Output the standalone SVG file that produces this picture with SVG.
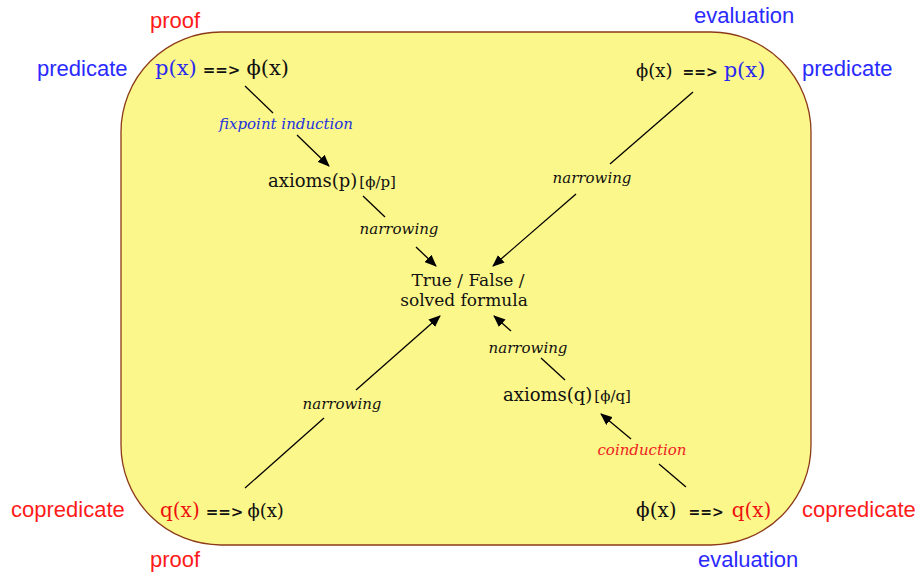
<svg xmlns="http://www.w3.org/2000/svg" width="922" height="573" viewBox="0 0 922 573">
<style>
.side{font-family:"Liberation Sans",Arial,sans-serif;font-size:22px}
.red{fill:#ff1a1a}
.blue{fill:#2a2aff}
.f{font-family:"DejaVu Serif","Liberation Serif",serif;fill:#111}
.lab{font-family:"DejaVu Serif","Liberation Serif",serif;font-style:italic;font-size:15px;fill:#111}
.edge{stroke:#000;stroke-width:1.3;fill:none}
</style>
<defs>
<marker id="ah" viewBox="0 0 12 10" refX="11" refY="5" markerWidth="12" markerHeight="10" markerUnits="userSpaceOnUse" orient="auto">
<path d="M0,0 L12,5 L0,10 z" fill="#000"/>
</marker>
</defs>
<rect id="frame" x="121" y="32" width="690" height="513" rx="100" ry="100" fill="#fcf78a" stroke="#8b3a1a" stroke-width="1.3"/>
<g id="corner-labels" class="side">
<text x="150" y="28" class="red">proof</text>
<text x="694" y="23" class="blue">evaluation</text>
<text x="37" y="76" class="blue">predicate</text>
<text x="802" y="76" class="blue">predicate</text>
<text x="11" y="517" class="red">copredicate</text>
<text x="802" y="517" class="red">copredicate</text>
<text x="150" y="567" class="red">proof</text>
<text x="698" y="567" class="blue">evaluation</text>
</g>
<g id="connectors">
<path class="edge" d="M245,86 L273,113"/>
<path class="edge" d="M297,135 L329,166" marker-end="url(#ah)"/>
<path class="edge" d="M363,196 L385,217"/>
<path class="edge" d="M416,247 L436,266" marker-end="url(#ah)"/>
<path class="edge" d="M693,92 L610,164"/>
<path class="edge" d="M576,194 L493,266" marker-end="url(#ah)"/>
<path class="edge" d="M245,488 L324,418"/>
<path class="edge" d="M356,390 L440,316" marker-end="url(#ah)"/>
<path class="edge" d="M565,380 L541,358"/>
<path class="edge" d="M511,331 L494,316" marker-end="url(#ah)"/>
<path class="edge" d="M686,487 L659,464"/>
<path class="edge" d="M631,439 L601,414" marker-end="url(#ah)"/>
</g>
<g id="edge-labels">
<text class="lab" x="286" y="129" text-anchor="middle" style="fill:#2233dd">fixpoint induction</text>
<text class="lab" x="399" y="234" text-anchor="middle">narrowing</text>
<text class="lab" x="592" y="183" text-anchor="middle">narrowing</text>
<text class="lab" x="342" y="409" text-anchor="middle">narrowing</text>
<text class="lab" x="528" y="353" text-anchor="middle">narrowing</text>
<text class="lab" x="642" y="455" text-anchor="middle" style="fill:#ee2222">coinduction</text>
</g>
<g id="n-px">
<text class="f" x="155" y="75"><tspan font-size="21" style="fill:#2a2aee">p(x)</tspan><tspan font-size="15" font-weight="bold" dx="6">==&gt;</tspan><tspan font-size="21" dx="6">ϕ(x)</tspan></text>
</g>
<g id="n-evalp">
<text class="f" x="636" y="77"><tspan font-size="18">ϕ(x)</tspan><tspan font-size="14" font-weight="bold" dx="10">==&gt;</tspan><tspan font-size="21" dx="6" style="fill:#2a2aee">p(x)</tspan></text>
</g>
<g id="n-axp">
<text class="f" x="268" y="187"><tspan font-size="18">axioms(p)</tspan><tspan font-size="15" dx="2">[ϕ/p]</tspan></text>
</g>
<g id="n-true">
<text class="f" font-size="17" x="468" y="286" text-anchor="middle">True / False /</text>
<text class="f" font-size="17" x="464" y="306" text-anchor="middle">solved formula</text>
</g>
<g id="n-axq">
<text class="f" x="503" y="401"><tspan font-size="18">axioms(q)</tspan><tspan font-size="15" dx="2">[ϕ/q]</tspan></text>
</g>
<g id="n-qx">
<text class="f" x="160" y="517"><tspan font-size="20" style="fill:#ee1111">q(x)</tspan><tspan font-size="15" font-weight="bold" dx="6">==&gt;</tspan><tspan font-size="18" dx="4">ϕ(x)</tspan></text>
</g>
<g id="n-evalq">
<text class="f" x="636" y="517"><tspan font-size="20">ϕ(x)</tspan><tspan font-size="14" font-weight="bold" dx="12">==&gt;</tspan><tspan font-size="20" dx="8" style="fill:#ee1111">q(x)</tspan></text>
</g>
</svg>
